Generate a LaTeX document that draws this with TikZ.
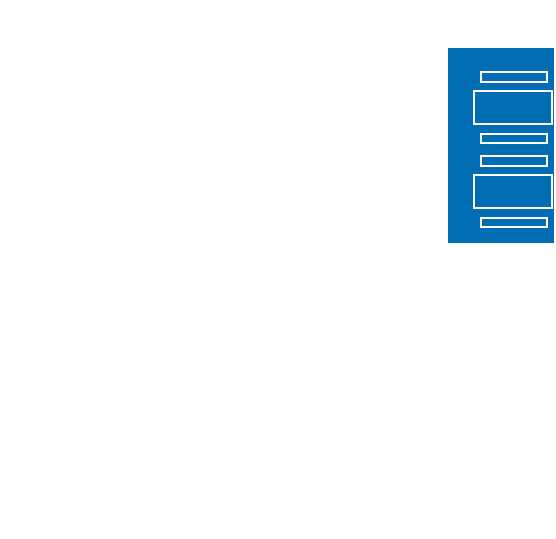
\documentclass[tikz,border=0pt]{standalone}
\definecolor{panelblue}{RGB}{0,109,178}
\begin{document}
\begin{tikzpicture}[x=1pt,y=-1pt,
  panel/.style={fill=panelblue,draw=none},
  slot/.style={draw=white,line width=1.8pt,fill=none}]
\useasboundingbox[fill=white] (0,0) rectangle (556,538);
\path[panel] (448,48.3) rectangle (554.3,243);
\draw[slot] (481,72) rectangle (546.8,81.7);
\draw[slot] (474.3,91) rectangle (552,124);
\draw[slot] (481,133.7) rectangle (546.8,143.3);
\draw[slot] (481,156) rectangle (546.8,165.7);
\draw[slot] (474.3,175.3) rectangle (552,208);
\draw[slot] (481,217.7) rectangle (546.8,227.3);
\end{tikzpicture}
\end{document}
